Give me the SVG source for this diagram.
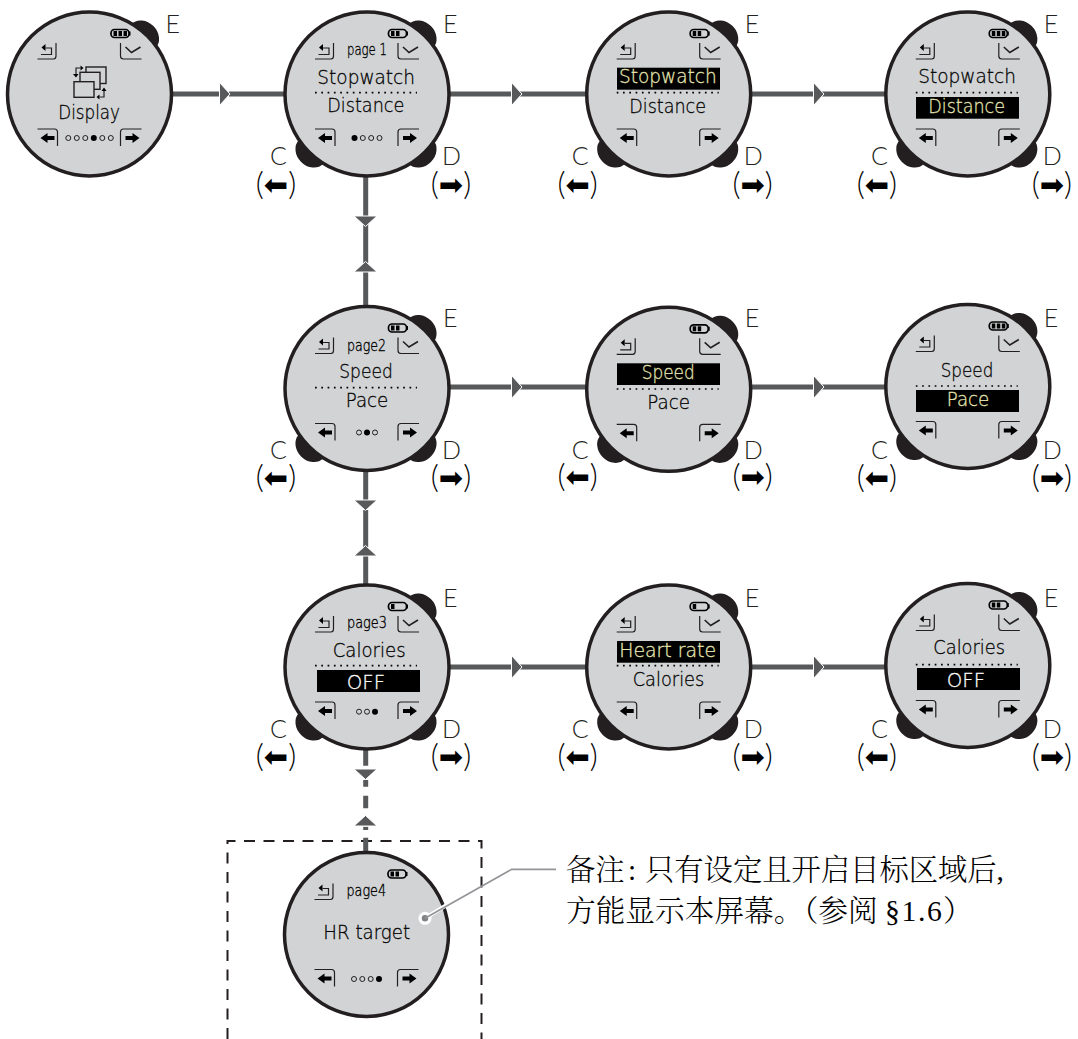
<svg xmlns="http://www.w3.org/2000/svg" width="1078" height="1039" viewBox="0 0 1078 1039">
<style>
.bg{fill:#fff}
.face{fill:#d1d3d4;stroke:#231f20;stroke-width:3.5}
.bump{fill:#231f20}
.ln{fill:none;stroke:#231f20;stroke-width:1.2}
.chk{fill:none;stroke:#231f20;stroke-width:1.6}
.blk{fill:#000}
.o{fill:none;stroke:#231f20;stroke-width:1}
.f{fill:#000}
.conn{fill:none;stroke:#58595b;stroke-width:5}
.tri{fill:#58595b;stroke:#fff;stroke-width:1}
.dots{fill:none;stroke:#000;stroke-width:1.7;stroke-dasharray:1.7 4.6}
text{opacity:.99}
.t{font-family:"DejaVu Sans",sans-serif;font-weight:200;font-size:20px;fill:#000;stroke:#000;stroke-width:.3}
.y{fill:#e9e9b4;stroke:#e9e9b4}
.w{fill:#fff;stroke:#fff}
.p{font-family:"DejaVu Sans",sans-serif;font-weight:200;font-size:15px;fill:#000;stroke:#000;stroke-width:.35}
.k{font-family:"Lato","Liberation Sans",sans-serif;font-weight:300;font-size:25px;fill:#231f20}
.pa{font-family:"Lato","Liberation Sans",sans-serif;font-weight:300;font-size:31px;fill:#000;text-anchor:middle}
.pa tspan{font-family:"DejaVu Sans",sans-serif;font-weight:400;font-size:29px}
.cn{font-family:"Liberation Serif","Noto Serif CJK SC","Noto Sans CJK SC",serif;font-size:29.3px;fill:#000;font-weight:300}
</style>
<defs>
<g id="bE"><ellipse class="bump" cx="54" cy="-58" rx="17" ry="14" transform="rotate(45 54 -58)"/></g>
<g id="watch"><use href="#bE"/><ellipse class="bump" cx="-56" cy="58" rx="17" ry="14" transform="rotate(45 -56 58)"/><ellipse class="bump" cx="54" cy="58" rx="17" ry="14" transform="rotate(-45 54 58)"/><circle class="face" r="82"/></g>
<g id="back"><path class="ln" d="M-52-35H-36Q-33.500-35-33.500-38V-51"/><path class="ln" d="M-48.500-39.500H-38V-46H-44"/><path class="f" d="M-44-50L-48-46.500L-44-43Z"/></g>
<g id="ok"><path class="ln" d="M31-51V-38Q31-35 34-35H52"/><path class="chk" d="M36-47L42-41.500L51-47"/></g>
<g id="nav"><path class="ln" d="M-52 35H-35Q-32 35-32 38V52M52 35H34Q31 35 31 38V52"/><path class="f" d="M-49 44L-42 39V42H-35V46H-42V49ZM50 44L43 39V42H36V46H43V49Z"/></g>
<g id="bat"><rect x="21.500" y="-64.500" width="18" height="8" rx="3.500" fill="none" stroke="#000" stroke-width="1.700"/><rect class="f" x="39.500" y="-62.500" width="1.500" height="4"/></g>
<path id="b1" class="f" d="M24-63h3.500v5H24z"/>
<path id="b2" class="f" d="M29-63h3.500v5H29z"/>
<path id="b3" class="f" d="M34-63h3.500v5H34z"/>
<path id="tr" class="tri" d="M-5-11.500L5.500 0L-5 11.500Z"/>
<path id="td" class="tri" d="M-11.500-5H11.500L0 5.500Z"/>
<path id="tu" class="tri" d="M-11.500 5H11.500L0-5.500Z"/>
<path id="dl" class="dots" d="M-52-1.300H50"/>
</defs>
<rect class="bg" width="1078" height="1039"/>

<path id="note-frame" d="M227.500 1039V841H481.500V1039" fill="none" stroke="#231f20" stroke-width="2" stroke-dasharray="11 8.500"/>

<g id="connectors">
<path class="conn" d="M170 94H219M229 94H285M450 94H512M520 94H586M752 94H814M822 94H886M450 387H512M520 387H586M752 387H814M822 387H886M450 667H512M520 667H586M752 667H814M822 667H886"/>
<path class="conn" d="M365.700 176V217M365.700 224V263M365.700 271V306M365.700 470V501M365.700 510V547M365.700 555V585M365.700 750V765.700M365.700 780V786.700M365.700 795.700V808.300M365.700 826.700V830M365.700 837.700V852"/>
<use href="#tr" x="224.500" y="94"/><use href="#tr" x="516.500" y="94"/><use href="#tr" x="818.500" y="94"/>
<use href="#tr" x="516.500" y="387"/><use href="#tr" x="818.500" y="387"/>
<use href="#tr" x="516.500" y="667"/><use href="#tr" x="818.500" y="667"/>
<use href="#td" x="365.500" y="221"/><use href="#tu" x="365.500" y="267"/>
<use href="#td" x="365.500" y="505"/><use href="#tu" x="365.500" y="551"/>
<use href="#td" x="365.500" y="774"/><use href="#tu" x="365.500" y="821"/>
</g>

<g id="node-display" transform="translate(89.500 94)">
<use href="#bE"/><circle class="face" r="82"/><use href="#bat"/><use href="#b1"/><use href="#b2"/><use href="#b3"/><use href="#back"/><use href="#ok"/><use href="#nav"/>
<rect x="-3.500" y="-27" width="20" height="16.500" fill="#d1d3d4" stroke="#231f20" stroke-width="1.400"/>
<rect x="-9.500" y="-21.700" width="20" height="17" fill="#d1d3d4" stroke="#231f20" stroke-width="1.400"/>
<rect x="-15.500" y="-12.300" width="20" height="15.600" fill="#d1d3d4" stroke="#231f20" stroke-width="1.400"/>
<path class="ln" d="M-9-26H-13.500V-20M10 3H14.500V-3"/><path class="f" d="M-16.500-20H-11L-13.500-16.500ZM12-3H17L14.500-6.500ZM-9-28.500V-23.500L-6-26ZM10 .5V5.500L7 3Z"/>
<text class="t" x="-31.200" y="25.300" textLength="61.700" lengthAdjust="spacingAndGlyphs">Display</text>
<circle class="o" cx="-21.200" cy="44" r="2.500"/><circle class="o" cx="-12.700" cy="44" r="2.500"/><circle class="o" cx="-4.200" cy="44" r="2.500"/><circle class="f" cx="4.300" cy="44" r="3"/><circle class="o" cx="12.800" cy="44" r="2.500"/><circle class="o" cx="21.300" cy="44" r="2.500"/>
<text class="k" x="76" y="-61">E</text>
</g>

<g id="node-page1" transform="translate(367 94)">
<use href="#watch"/><use href="#bat"/><use href="#b1"/><use href="#b2"/><use href="#back"/><use href="#ok"/><use href="#nav"/>
<text class="p" x="-20" y="-39" textLength="40" lengthAdjust="spacingAndGlyphs">page 1</text>
<text class="t" x="-49.700" y="-10" textLength="97.700" lengthAdjust="spacingAndGlyphs">Stopwatch</text><use href="#dl"/>
<text class="t" x="-39.700" y="18" textLength="77" lengthAdjust="spacingAndGlyphs">Distance</text>
<circle class="f" cx="-12.500" cy="44" r="3"/><circle class="o" cx="-4.200" cy="44" r="2.500"/><circle class="o" cx="4.200" cy="44" r="2.500"/><circle class="o" cx="12.500" cy="44" r="2.500"/>
<text class="k" x="76" y="-61">E</text><text class="k" x="-80" y="71" text-anchor="end">C</text><text class="k" x="75" y="71">D</text>
<text class="pa" x="-91" y="101">(<tspan>⬅</tspan>)</text><text class="pa" x="84" y="101">(<tspan>➡</tspan>)</text>
</g>

<g id="node-stopwatch" transform="translate(668.700 94)">
<use href="#watch"/><use href="#bat"/><use href="#b1"/><use href="#b2"/><use href="#back"/><use href="#ok"/><use href="#nav"/>
<rect class="blk" x="-51.700" y="-26.300" width="103" height="22"/>
<text class="t y" x="-49.700" y="-10.700" textLength="97.700" lengthAdjust="spacingAndGlyphs">Stopwatch</text><use href="#dl"/>
<text class="t" x="-39.400" y="19.300" textLength="76.700" lengthAdjust="spacingAndGlyphs">Distance</text>
<text class="k" x="76" y="-61">E</text><text class="k" x="-80" y="71" text-anchor="end">C</text><text class="k" x="75" y="71">D</text>
<text class="pa" x="-91" y="101">(<tspan>⬅</tspan>)</text><text class="pa" x="84" y="101">(<tspan>➡</tspan>)</text>
</g>

<g id="node-distance" transform="translate(967.800 94)">
<use href="#watch"/><use href="#bat"/><use href="#b1"/><use href="#b2"/><use href="#b3"/><use href="#back"/><use href="#ok"/><use href="#nav"/>
<text class="t" x="-49.500" y="-10.700" textLength="97.700" lengthAdjust="spacingAndGlyphs">Stopwatch</text><use href="#dl"/>
<rect class="blk" x="-51.800" y="3" width="103" height="21.700"/>
<text class="t y" x="-39.500" y="19.300" textLength="76.700" lengthAdjust="spacingAndGlyphs">Distance</text>
<text class="k" x="76" y="-61">E</text><text class="k" x="-80" y="71" text-anchor="end">C</text><text class="k" x="75" y="71">D</text>
<text class="pa" x="-91" y="101">(<tspan>⬅</tspan>)</text><text class="pa" x="84" y="101">(<tspan>➡</tspan>)</text>
</g>

<g id="node-page2" transform="translate(367 388.500)">
<use href="#watch"/><use href="#bat"/><use href="#b1"/><use href="#b2"/><use href="#back"/><use href="#ok"/><use href="#nav"/>
<text class="p" x="-20" y="-38" textLength="39" lengthAdjust="spacingAndGlyphs">page2</text>
<text class="t" x="-27.700" y="-10.200" textLength="53.400" lengthAdjust="spacingAndGlyphs">Speed</text><use href="#dl" y="0.500"/>
<text class="t" x="-21.300" y="18.800" textLength="42.600" lengthAdjust="spacingAndGlyphs">Pace</text>
<circle class="o" cx="-8" cy="44" r="2.500"/><circle class="f" cx="0" cy="44" r="3"/><circle class="o" cx="8" cy="44" r="2.500"/>
<text class="k" x="76" y="-62">E</text><text class="k" x="-80" y="70.500" text-anchor="end">C</text><text class="k" x="75" y="70.500">D</text>
<text class="pa" x="-91" y="99">(<tspan>⬅</tspan>)</text><text class="pa" x="84" y="99">(<tspan>➡</tspan>)</text>
</g>

<g id="node-speed" transform="translate(668.700 389.300)">
<use href="#watch"/><use href="#bat"/><use href="#b1"/><use href="#b2"/><use href="#back"/><use href="#ok"/><use href="#nav"/>
<rect class="blk" x="-51.700" y="-26" width="103" height="21.700"/>
<text class="t y" x="-27" y="-10" textLength="53" lengthAdjust="spacingAndGlyphs">Speed</text><use href="#dl" y="1"/>
<text class="t" x="-21.400" y="19.700" textLength="42.700" lengthAdjust="spacingAndGlyphs">Pace</text>
<text class="k" x="76" y="-62.800">E</text><text class="k" x="-80" y="69.700" text-anchor="end">C</text><text class="k" x="75" y="69.700">D</text>
<text class="pa" x="-91" y="98.200">(<tspan>⬅</tspan>)</text><text class="pa" x="84" y="98.200">(<tspan>➡</tspan>)</text>
</g>

<g id="node-pace" transform="translate(967.800 386.500)">
<use href="#watch"/><use href="#bat"/><use href="#b1"/><use href="#b2"/><use href="#b3"/><use href="#back"/><use href="#ok"/><use href="#nav"/>
<text class="t" x="-27.100" y="-9.800" textLength="52.600" lengthAdjust="spacingAndGlyphs">Speed</text><use href="#dl" y="0.800"/>
<rect class="blk" x="-51.800" y="3.500" width="103" height="22"/>
<text class="t y" x="-21.100" y="19.500" textLength="42.600" lengthAdjust="spacingAndGlyphs">Pace</text>
<text class="k" x="76" y="-60">E</text><text class="k" x="-80" y="72.500" text-anchor="end">C</text><text class="k" x="75" y="72.500">D</text>
<text class="pa" x="-91" y="101">(<tspan>⬅</tspan>)</text><text class="pa" x="84" y="101">(<tspan>➡</tspan>)</text>
</g>

<g id="node-page3" transform="translate(367 667)">
<use href="#watch"/><use href="#bat"/><use href="#b1"/><use href="#back"/><use href="#ok"/><use href="#nav"/>
<text class="p" x="-20" y="-38.700" textLength="40" lengthAdjust="spacingAndGlyphs">page3</text>
<text class="t" x="-34.300" y="-10.300" textLength="73" lengthAdjust="spacingAndGlyphs">Calories</text><use href="#dl"/>
<rect class="blk" x="-50" y="3" width="103" height="22"/>
<text class="t w" x="-20.300" y="21.700" textLength="38.300" lengthAdjust="spacingAndGlyphs">OFF</text>
<circle class="o" cx="-8" cy="44.700" r="2.500"/><circle class="o" cx="0" cy="44.700" r="2.500"/><circle class="f" cx="8" cy="44.700" r="3"/>
<text class="k" x="76" y="-60.300">E</text><text class="k" x="-80" y="70.700" text-anchor="end">C</text><text class="k" x="75" y="70.700">D</text>
<text class="pa" x="-91" y="99.500">(<tspan>⬅</tspan>)</text><text class="pa" x="84" y="99.500">(<tspan>➡</tspan>)</text>
</g>

<g id="node-heartrate" transform="translate(668.700 667)">
<use href="#watch"/><use href="#bat"/><use href="#b1"/><use href="#back"/><use href="#ok"/><use href="#nav"/>
<rect class="blk" x="-51.700" y="-26" width="103" height="21.700"/>
<text class="t y" x="-49.400" y="-10.300" textLength="96.700" lengthAdjust="spacingAndGlyphs">Heart rate</text><use href="#dl"/>
<text class="t" x="-36" y="18.700" textLength="71.600" lengthAdjust="spacingAndGlyphs">Calories</text>
<text class="k" x="76" y="-60.300">E</text><text class="k" x="-80" y="70.700" text-anchor="end">C</text><text class="k" x="75" y="70.700">D</text>
<text class="pa" x="-91" y="99.500">(<tspan>⬅</tspan>)</text><text class="pa" x="84" y="99.500">(<tspan>➡</tspan>)</text>
</g>

<g id="node-off" transform="translate(967.800 665.500)">
<use href="#watch"/><use href="#bat"/><use href="#b1"/><use href="#b2"/><use href="#back"/><use href="#ok"/><use href="#nav"/>
<text class="t" x="-34.500" y="-11.200" textLength="71.700" lengthAdjust="spacingAndGlyphs">Calories</text><use href="#dl" y="0.500"/>
<rect class="blk" x="-50.800" y="2.500" width="103" height="22"/>
<text class="t w" x="-21.100" y="21.200" textLength="38.300" lengthAdjust="spacingAndGlyphs">OFF</text>
<text class="k" x="76" y="-58.800">E</text><text class="k" x="-80" y="72.200" text-anchor="end">C</text><text class="k" x="75" y="72.200">D</text>
<text class="pa" x="-91" y="101">(<tspan>⬅</tspan>)</text><text class="pa" x="84" y="101">(<tspan>➡</tspan>)</text>
</g>

<g id="node-page4" transform="translate(366.500 934.500)">
<circle class="face" r="82"/><use href="#bat"/><use href="#b1"/><use href="#b2"/><use href="#back"/><use href="#nav"/>
<text class="p" x="-20" y="-39" textLength="39.500" lengthAdjust="spacingAndGlyphs">page4</text>
<text class="t" x="-43.200" y="4.800" textLength="86.700" lengthAdjust="spacingAndGlyphs">HR target</text>
<circle class="o" cx="-12.500" cy="44.500" r="2.500"/><circle class="o" cx="-4.200" cy="44.500" r="2.500"/><circle class="o" cx="4.200" cy="44.500" r="2.500"/><circle class="f" cx="12.500" cy="44.500" r="3"/>
</g>

<g id="note">
<path d="M425 918.300L450 903" fill="none" stroke="#fff" stroke-width="4"/>
<circle cx="425" cy="918.300" r="6.500" fill="#fff"/>
<circle cx="425" cy="918.300" r="3.200" fill="#808285"/>
<path d="M425 918.300L511.700 869.300H556" fill="none" stroke="#939598" stroke-width="1.700"/>
<text class="cn" x="566" y="880">备注<tspan x="628">:</tspan><tspan x="645">只有设定且开启目标区域后,</tspan></text>
<text class="cn" x="566" y="921" style="font-size:29.700px">方能显示本屏幕。（参阅<tspan x="885" letter-spacing="1.600">§1.6</tspan><tspan x="943">）</tspan></text>
</g>
</svg>
